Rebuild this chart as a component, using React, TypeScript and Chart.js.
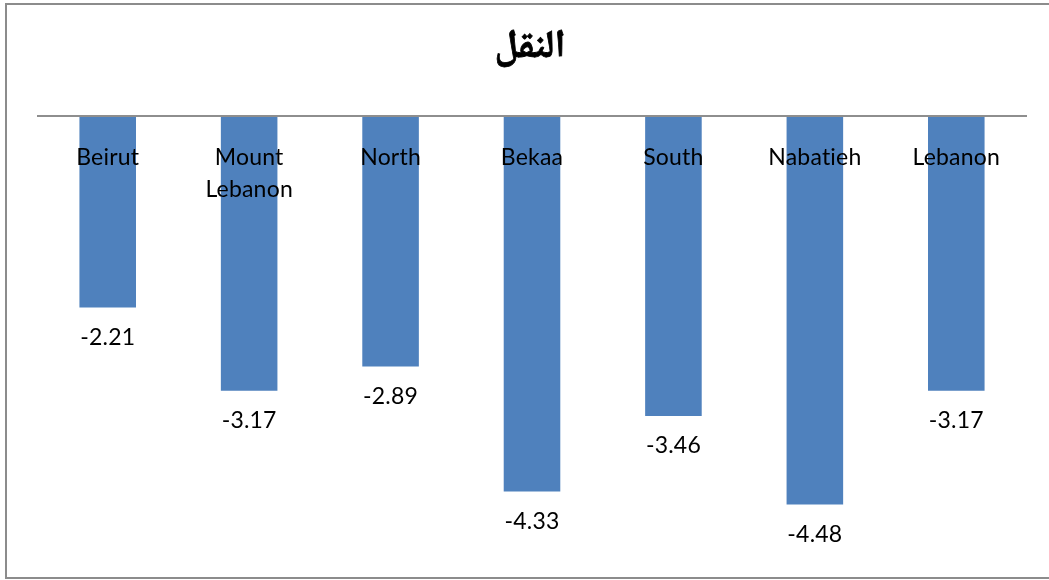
import React, { useEffect, useRef } from "react";
import { Chart, registerables } from "chart.js";

Chart.register(...registerables);

const TITLE = "النقل";
const CATEGORIES: string[][] = [
  ["Beirut"],
  ["Mount", "Lebanon"],
  ["North"],
  ["Bekaa"],
  ["South"],
  ["Nabatieh"],
  ["Lebanon"],
];
const VALUES: number[] = [-2.21, -3.17, -2.89, -4.33, -3.46, -4.48, -3.17];
const VALUE_LABELS: string[] = ["-2.21", "-3.17", "-2.89", "-4.33", "-3.46", "-4.48", "-3.17"];
const Y_MIN = -5;
const Y_MAX = 0;

const FONT = "Lato, 'Noto Sans', sans-serif";

const customDraw = {
  id: "customDraw",
  beforeDraw(chart: any) {
    const ctx = chart.ctx;
    ctx.save();
    ctx.fillStyle = "#ffffff";
    ctx.fillRect(0, 0, chart.width, chart.height);
    ctx.strokeStyle = "#8c8c8c";
    ctx.lineWidth = 2;
    ctx.strokeRect(6, 4, 1100, 574);
    ctx.restore();
  },
  afterDatasetsDraw(chart: any) {
    const ctx = chart.ctx;
    const xs = chart.scales.x;
    const ys = chart.scales.y;
    const area = chart.chartArea;
    const zeroY = ys.getPixelForValue(0);
    ctx.save();
    // axis line
    ctx.strokeStyle = "#8e8e8e";
    ctx.lineWidth = 2;
    ctx.beginPath();
    ctx.moveTo(area.left, zeroY);
    ctx.lineTo(area.right, zeroY);
    ctx.stroke();

    // title
    ctx.fillStyle = "#000000";
    ctx.font = "bold 39px 'Noto Naskh Arabic', 'Noto Sans Arabic', 'DejaVu Sans', sans-serif";
    ctx.textAlign = "center";
    ctx.textBaseline = "middle";
    ctx.lineWidth = 0.8;
    ctx.strokeStyle = "#000000";
    const tx = (area.left + area.right) / 2 - 2;
    ctx.fillText(TITLE, tx, 52);
    ctx.strokeText(TITLE, tx, 52);

    // category labels
    ctx.font = `23px ${FONT}`;
    try {
      (ctx as any).letterSpacing = "0.2px";
    } catch (e) {}
    CATEGORIES.forEach((lines, i) => {
      const x = xs.getPixelForValue(i);
      lines.forEach((line, j) => {
        ctx.fillText(line, x, zeroY + 42 + j * 32);
      });
    });

    // value labels
    const meta = chart.getDatasetMeta(0);
    meta.data.forEach((bar: any, i: number) => {
      ctx.fillText(VALUE_LABELS[i], bar.x, bar.y + 30);
    });
    ctx.restore();
  },
};

export default function App() {
  const ref = useRef<HTMLCanvasElement | null>(null);
  useEffect(() => {
    document.body.style.margin = "0";
    const canvas = ref.current!;
    const chart = new Chart(canvas, {
      type: "bar",
      data: {
        labels: CATEGORIES.map((c) => c.join(" ")),
        datasets: [
          {
            data: VALUES,
            backgroundColor: "#4f81bd",
            borderWidth: 0,
            categoryPercentage: 1,
            barPercentage: 0.4,
          },
        ],
      },
      options: {
        responsive: false,
        animation: false,
        devicePixelRatio: 1,
        layout: { padding: { left: 37, right: 22, top: 116, bottom: 30.5 } },
        plugins: {
          legend: { display: false },
          title: { display: false },
          tooltip: { enabled: false },
        },
        scales: {
          x: { display: false },
          y: { display: false, min: Y_MIN, max: Y_MAX },
        },
      },
      plugins: [customDraw],
    });
    return () => chart.destroy();
  }, []);
  return (
    <div style={{ position: "absolute", left: 0, top: 0, width: 1049, height: 580 }}>
      <canvas ref={ref} width={1049} height={580} style={{ width: 1049, height: 580 }} />
    </div>
  );
}
